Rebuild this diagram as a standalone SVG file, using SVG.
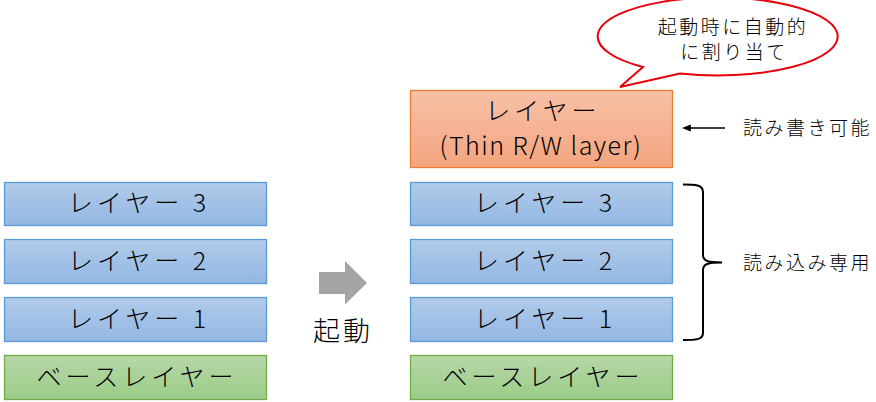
<svg xmlns="http://www.w3.org/2000/svg" width="876" height="402" viewBox="0 0 876 402">
<style>
.lbl{font-family:"Noto Sans CJK JP","Noto Sans",sans-serif;font-size:25px;font-weight:300;fill:#000;text-anchor:middle;letter-spacing:4px}
.note{font-family:"Noto Sans CJK JP","Noto Sans",sans-serif;font-size:19px;font-weight:300;fill:#000;letter-spacing:2.5px}
.blue{fill:url(#gBlue);stroke:#5b9bd5;stroke-width:1.3}
.green{fill:url(#gGreen);stroke:#70ad47;stroke-width:1.3}
.orange{fill:url(#gOrange);stroke:#ed7d31;stroke-width:1.3}
</style>
<defs>
<linearGradient id="gBlue" x1="0" y1="0" x2="0" y2="1"><stop offset="0" stop-color="#b1cbea"/><stop offset="1" stop-color="#93b7e3"/></linearGradient>
<linearGradient id="gGreen" x1="0" y1="0" x2="0" y2="1"><stop offset="0" stop-color="#b6d8a8"/><stop offset="1" stop-color="#9ccb88"/></linearGradient>
<linearGradient id="gOrange" x1="0" y1="0" x2="0" y2="1"><stop offset="0" stop-color="#f8c1a7"/><stop offset="1" stop-color="#f4a47f"/></linearGradient>
<marker id="ah" viewBox="0 0 10 10" refX="1" refY="5" markerWidth="6" markerHeight="6" orient="auto-start-reverse"><path d="M0,1 L10,5 L0,9 z" fill="#000"/></marker>
</defs>
<rect width="876" height="402" fill="#fff"/>

<g id="left-layer3"><rect class="blue" x="4.5" y="182.5" width="262" height="43"/><text class="lbl" x="139" y="212">レイヤー 3</text></g>
<g id="left-layer2"><rect class="blue" x="4.5" y="239.5" width="262" height="44"/><text class="lbl" x="139" y="270">レイヤー 2</text></g>
<g id="left-layer1"><rect class="blue" x="4.5" y="297.5" width="262" height="44"/><text class="lbl" x="139" y="328">レイヤー 1</text></g>
<g id="left-base"><rect class="green" x="4.5" y="355.5" width="262" height="44"/><text class="lbl" x="137" y="386">ベースレイヤー</text></g>

<g id="startup">
<path d="M319,272 L345,272 L345,261 L367,283 L345,304.5 L345,294 L319,294 z" fill="#a5a5a5"/>
<text x="343" y="341" font-family="'Noto Sans CJK JP',sans-serif" font-size="27" font-weight="300" text-anchor="middle" letter-spacing="3">起動</text>
</g>

<g id="rw-layer"><rect class="orange" x="410.5" y="90.5" width="262" height="77"/>
<text class="lbl" x="543" y="120">レイヤー</text>
<text class="lbl" x="541" y="155" style="letter-spacing:1.5px">(Thin R/W layer)</text></g>
<g id="right-layer3"><rect class="blue" x="410.5" y="182.5" width="262" height="43"/><text class="lbl" x="545" y="212">レイヤー 3</text></g>
<g id="right-layer2"><rect class="blue" x="410.5" y="239.5" width="262" height="44"/><text class="lbl" x="545" y="270">レイヤー 2</text></g>
<g id="right-layer1"><rect class="blue" x="410.5" y="297.5" width="262" height="44"/><text class="lbl" x="545" y="328">レイヤー 1</text></g>
<g id="right-base"><rect class="green" x="410.5" y="355.5" width="262" height="44"/><text class="lbl" x="543" y="386">ベースレイヤー</text></g>

<g id="callout">
<path d="M643,67 A120,39 0 1 1 680,73.5 L620,87 z" fill="#fff" stroke="#e8000b" stroke-width="2"/>
<text class="note" x="733" y="34" text-anchor="middle">起動時に自動的</text>
<text class="note" x="734" y="59" text-anchor="middle">に割り当て</text>
</g>

<g id="connectors">
<line x1="725" y1="128" x2="690" y2="128" stroke="#000" stroke-width="1.5" marker-end="url(#ah)"/>
<path d="M683,184.5 C695,184.5 703,184.5 703,192 L703,255 C703,261 708,262.5 722,262.5 C708,262.5 703,264 703,270 L703,333 C703,340 695,340 683,340" fill="none" stroke="#000" stroke-width="2"/>
</g>

<g id="labels">
<text class="note" x="743" y="135">読み書き可能</text>
<text class="note" x="743" y="270">読み込み専用</text>
</g>
</svg>
